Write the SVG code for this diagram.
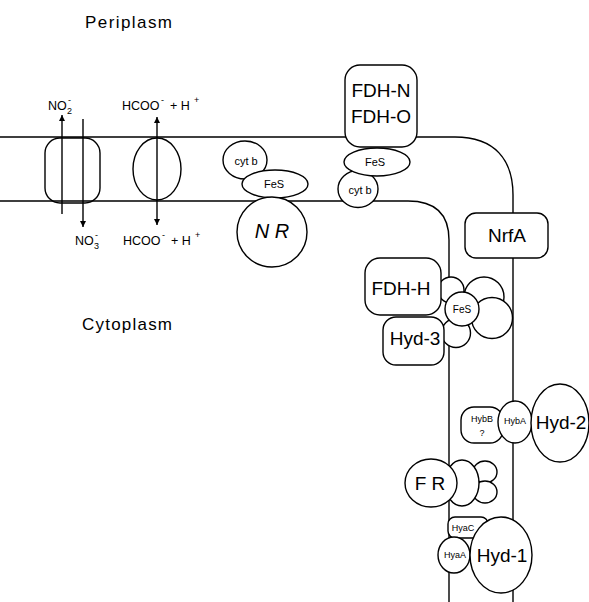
<svg xmlns="http://www.w3.org/2000/svg" width="589" height="602" viewBox="0 0 589 602">
<style>
.s{fill:#fff;stroke:#000;stroke-width:1.4}
.l{fill:none;stroke:#000;stroke-width:1.4}
.t{font-family:"Liberation Sans",Arial,sans-serif;fill:#000}
.big{font-size:19px;text-anchor:middle}
.sm{font-size:11px;text-anchor:middle}
.xs{font-size:9px;text-anchor:middle}
.lab{font-size:12.5px}
.sup{font-size:9px}
</style>
<defs>
<marker id="ah" viewBox="0 0 10 10" refX="10" refY="5" markerWidth="12" markerHeight="6" markerUnits="userSpaceOnUse" orient="auto-start-reverse">
<path d="M0,0 L10,5 L0,10 z" fill="#000"/>
</marker>
</defs>
<rect width="589" height="602" fill="#fff"/>
<text class="t" x="85" y="28" font-size="17" textLength="87">Periplasm</text>
<text class="t" x="82" y="330" font-size="17" textLength="90">Cytoplasm</text>

<g id="membrane">
<path class="l" d="M0,137 H455 C495,137 513,160 513,195 V602"/>
<path class="l" d="M0,201 H408 C436,201 449,215 449,240 V602"/>
</g>

<g id="nitrite-transporter">
<rect class="s" x="45" y="138" width="55" height="65" rx="15" fill-opacity="0"/>
<text class="t lab" x="48" y="110">NO</text>
<text class="t sup" x="67" y="114">2</text>
<text class="t sup" x="68" y="103">-</text>
<text class="t lab" x="75" y="245">NO</text>
<text class="t sup" x="94" y="249">3</text>
<text class="t sup" x="95" y="238">-</text>
</g>

<g id="formate-transporter">
<ellipse class="s" cx="157" cy="169" rx="24" ry="31" fill-opacity="0"/>
<text class="t lab" x="122" y="110">HCOO</text>
<text class="t sup" x="161" y="103">-</text>
<text class="t lab" x="170" y="110">+ H</text>
<text class="t sup" x="194" y="103">+</text>
<text class="t lab" x="123" y="245">HCOO</text>
<text class="t sup" x="162" y="238">-</text>
<text class="t lab" x="171" y="245">+ H</text>
<text class="t sup" x="195" y="238">+</text>
</g>

<g id="connectors">
<line class="l" x1="62" y1="214" x2="62" y2="115" marker-end="url(#ah)"/>
<line class="l" x1="83" y1="119" x2="83" y2="227" marker-end="url(#ah)"/>
<line class="l" x1="157" y1="117" x2="157" y2="225" marker-start="url(#ah)" marker-end="url(#ah)"/>
</g>

<g id="NR">
<ellipse class="s" cx="245" cy="160" rx="22" ry="19"/>
<text class="t sm" x="246" y="165">cyt b</text>
<ellipse class="s" cx="275" cy="184" rx="33" ry="14"/>
<text class="t sm" x="274" y="188">FeS</text>
<circle class="s" cx="272" cy="232" r="35"/>
<text class="t" x="272" y="238" font-size="20" text-anchor="middle" font-style="italic">N R</text>
</g>

<g id="FDH-N">
<ellipse class="s" cx="358" cy="189" rx="20" ry="18.5"/>
<text class="t sm" x="360" y="194">cyt b</text>
<ellipse class="s" cx="377" cy="162" rx="33" ry="14"/>
<text class="t sm" x="375" y="166">FeS</text>
<rect class="s" x="345" y="65" width="72" height="82" rx="15"/>
<text class="t big" x="381" y="97">FDH-N</text>
<text class="t big" x="381" y="123">FDH-O</text>
</g>

<g id="NrfA">
<rect class="s" x="465" y="213" width="83" height="45" rx="11"/>
<text class="t big" x="507" y="242">NrfA</text>
</g>

<g id="FHL">
<circle class="s" cx="484" cy="297" r="20"/>
<circle class="s" cx="492" cy="318" r="20.5"/>
<circle class="s" cx="451" cy="290" r="13"/>
<circle class="s" cx="456" cy="333" r="14.5"/>
<circle class="s" cx="462" cy="309" r="17"/>
<text class="t" x="462" y="313" font-size="10" text-anchor="middle">FeS</text>
<rect class="s" x="365" y="258" width="76" height="57" rx="15"/>
<text class="t big" x="401" y="295">FDH-H</text>
<rect class="s" x="383" y="317" width="61" height="48" rx="13"/>
<text class="t big" x="415" y="345">Hyd-3</text>
</g>

<g id="Hyd-2">
<rect class="s" x="461" y="407" width="42" height="36" rx="13"/>
<text class="t xs" x="482" y="422">HybB</text>
<text class="t xs" x="482" y="436">?</text>
<ellipse class="s" cx="515" cy="422" rx="17" ry="21"/>
<text class="t xs" x="515" y="424">HybA</text>
<ellipse class="s" cx="560" cy="423" rx="29" ry="39"/>
<text class="t big" x="561" y="429">Hyd-2</text>
</g>

<g id="FR">
<ellipse class="s" cx="485" cy="472" rx="12" ry="11"/>
<ellipse class="s" cx="485" cy="492" rx="12" ry="11"/>
<ellipse class="s" cx="462" cy="483" rx="17" ry="23"/>
<ellipse class="s" cx="431" cy="483" rx="26" ry="24"/>
<text class="t" x="430" y="490" font-size="19" text-anchor="middle">F R</text>
</g>

<g id="Hyd-1">
<rect class="s" x="448" y="517" width="40" height="21" rx="7"/>
<text class="t xs" x="463" y="531">HyaC</text>
<ellipse class="s" cx="454" cy="555" rx="16" ry="18"/>
<text class="t xs" x="455" y="558">HyaA</text>
<ellipse class="s" cx="501" cy="555" rx="31" ry="38"/>
<text class="t big" x="502" y="562">Hyd-1</text>
</g>
</svg>
